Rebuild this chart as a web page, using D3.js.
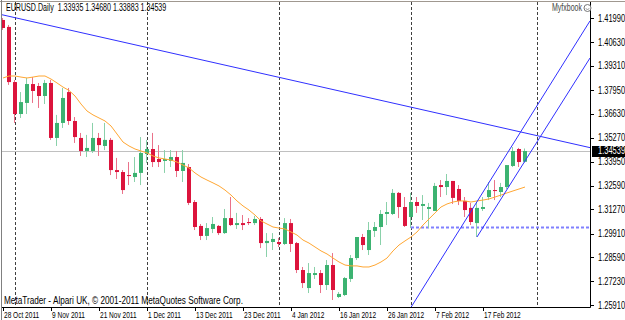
<!DOCTYPE html>
<html>
<head>
<meta charset="utf-8">
<script src="https://cdn.jsdelivr.net/npm/d3@7"></script>
<style>
html, body { margin: 0; padding: 0; background: #fff; }
svg { display: block; }
text { font-family: "Liberation Sans", Arial, sans-serif; }
</style>
</head>
<body>
<svg id="chart" width="625" height="320"></svg>
<script>
// EURUSD daily, 28 Oct 2011 .. 28 Feb 2012 (one value per bar)
const open = [1.4188,1.4149,1.3840,1.3661,1.3723,1.3829,1.3818,1.3762,1.3835,1.3527,
1.3611,1.3784,1.3622,1.3527,1.3454,1.3454,1.3527,1.3482,1.3516,1.3347,
1.3336,1.3319,1.3308,1.3331,1.3437,1.3465,1.3409,1.3398,1.3398,1.3420,
1.3342,1.3364,1.3168,1.3034,1.2978,1.3017,1.3034,1.2994,1.3078,1.3039,
1.3050,1.3056,1.3050,1.3073,1.2938,1.2944,1.2944,1.2933,1.3050,1.2938,
1.2787,1.2686,1.2759,1.2770,1.2703,1.2815,1.2636,1.2647,1.2737,1.2854,
1.2972,1.2899,1.3006,1.3028,1.3101,1.3101,1.3219,1.3140,1.3084,1.3168,
1.3146,1.3129,1.3118,1.3263,1.3252,1.3286,1.3241,1.3174,1.3135,1.3050,
1.3129,1.3196,1.3235,1.3224,1.3252,1.3370,1.3465,1.33935];
const high = [1.4199,1.4160,1.3852,1.3784,1.3863,1.3868,1.3835,1.3852,1.3852,1.3656,
1.3807,1.3807,1.3644,1.3555,1.3544,1.3611,1.3555,1.3611,1.3527,1.3415,
1.3347,1.3392,1.3420,1.3532,1.3516,1.3555,1.3487,1.3459,1.3459,1.3454,
1.3459,1.3381,1.3179,1.3045,1.3050,1.3084,1.3039,1.3129,1.3196,1.3107,
1.3095,1.3078,1.3090,1.3084,1.2994,1.2994,1.2967,1.3078,1.3073,1.2944,
1.2804,1.2826,1.2804,1.2787,1.2843,1.2882,1.2664,1.2748,1.2871,1.2972,
1.2989,1.3056,1.3056,1.3123,1.3168,1.3241,1.3224,1.3196,1.3219,1.3196,
1.3207,1.3163,1.3275,1.3291,1.3325,1.3286,1.3263,1.3196,1.3163,1.3163,
1.3196,1.3280,1.3291,1.3275,1.3375,1.3476,1.3471,1.34680];
const low = [1.4132,1.3824,1.3611,1.3639,1.3661,1.3723,1.3695,1.3717,1.3516,1.3482,
1.3583,1.3600,1.3499,1.3426,1.3420,1.3443,1.3426,1.3459,1.3319,1.3297,
1.3213,1.3263,1.3280,1.3263,1.3387,1.3364,1.3364,1.3331,1.3364,1.3308,
1.3280,1.3151,1.3011,1.2955,1.2955,1.2994,1.2983,1.2989,1.3034,1.3017,
1.3011,1.3039,1.3039,1.2910,1.2860,1.2899,1.2916,1.2927,1.2888,1.2770,
1.2686,1.2658,1.2737,1.2658,1.2675,1.2619,1.2630,1.2641,1.2720,1.2843,
1.2899,1.2871,1.2972,1.2927,1.3039,1.3095,1.3078,1.3028,1.3022,1.3107,
1.3067,1.3022,1.3118,1.3196,1.3207,1.3157,1.3151,1.3084,1.3039,1.2972,
1.3118,1.3179,1.3179,1.3196,1.3241,1.3364,1.3364,1.33883];
const close = [1.4143,1.3840,1.3661,1.3728,1.3829,1.3790,1.3762,1.3835,1.3527,1.3611,
1.3751,1.3622,1.3532,1.3454,1.3471,1.3527,1.3487,1.3516,1.3347,1.3336,
1.3235,1.3314,1.3331,1.3443,1.3465,1.3392,1.3392,1.3409,1.3420,1.3342,
1.3387,1.3163,1.3028,1.2978,1.3022,1.3045,1.2994,1.3078,1.3039,1.3050,
1.3039,1.3050,1.3073,1.2938,1.2950,1.2961,1.2933,1.3050,1.2933,1.2787,
1.2714,1.2770,1.2770,1.2703,1.2815,1.2675,1.2653,1.2742,1.2854,1.2972,
1.2927,1.3011,1.3028,1.3101,1.3112,1.3219,1.3140,1.3034,1.3168,1.3146,
1.3157,1.3140,1.3258,1.3252,1.3286,1.3191,1.3174,1.3123,1.3056,1.3135,
1.3140,1.3235,1.3230,1.3252,1.3375,1.3454,1.3392,1.34539];
// moving average as drawn (orange)
const ma = [1.3863,1.3874,1.3874,1.3868,1.3863,1.3868,1.3874,1.3874,1.3857,1.3835,
1.3812,1.3793,1.3762,1.3717,1.3678,1.3656,1.3639,1.3622,1.3594,1.3549,
1.3504,1.3482,1.3465,1.3454,1.3443,1.3426,1.3415,1.3409,1.3403,1.3392,
1.3375,1.3359,1.3331,1.3308,1.3291,1.3275,1.3258,1.3235,1.3207,1.3174,
1.3146,1.3123,1.3095,1.3062,1.3045,1.3028,1.3022,1.3017,1.3000,1.2983,
1.2955,1.2938,1.2916,1.2894,1.2877,1.2854,1.2832,1.2815,1.2810,1.2810,
1.2804,1.2804,1.2815,1.2832,1.2854,1.2894,1.2927,1.2950,1.2972,1.3000,
1.3039,1.3073,1.3107,1.3140,1.3157,1.3168,1.3174,1.3174,1.3168,1.3174,
1.3179,1.3185,1.3196,1.3207,1.3219,1.3230,1.3241,1.3252];

const dateTicks = [0,8,16,24,32,40,48,56,64,72,80];
const dateLabels = ["28 Oct 2011","9 Nov 2011","21 Nov 2011","1 Dec 2011","13 Dec 2011","23 Dec 2011",
  "4 Jan 2012","16 Jan 2012","26 Jan 2012","7 Feb 2012","17 Feb 2012"];
const monthStarts = [2,24,46,68,89];
const priceTicks = [1.41990,1.40630,1.39310,1.37950,1.36630,1.35270,1.33950,1.32590,1.31270,1.29910,1.28590,1.27230,1.25910];
const bid = 1.34539;
const levelLine = {i: 68, p: 1.3025};
// trendlines: anchors as [bar, price]
const trendDown = [[0,1.4216],[87,1.3555]];
const chanUpper = [[68,1.2578],[87,1.3600]];
const chanLower = [[79,1.2972],[87,1.3398]];

const W = 625, H = 320;
const L = 2, T = 2, R = 590, B = 307;
const bull = "#3cb371", bear = "#dc143c";
const bullWick = "#8ad1aa", bearWick = "#ea728a";

const x = d3.scaleLinear([0,87],[3,525]);
const y = d3.scaleLinear([1.25910,1.41990],[305,18]);

const svg = d3.select("#chart");
svg.append("defs").append("clipPath").attr("id","area")
  .append("rect").attr("x",L).attr("y",T).attr("width",R-L).attr("height",B-T);

// outer frame
svg.append("line").attr("x1",0).attr("x2",W).attr("y1",1.5).attr("y2",1.5).attr("stroke","#a09890");
svg.append("line").attr("x1",1.5).attr("x2",1.5).attr("y1",0).attr("y2",H).attr("stroke","#808080");

const plot = svg.append("g").attr("clip-path","url(#area)");

// month separators
plot.selectAll(".sep").data(monthStarts).join("line")
  .attr("class","sep")
  .attr("x1",d => Math.round(x(d))+0.5).attr("x2",d => Math.round(x(d))+0.5)
  .attr("y1",T).attr("y2",B)
  .attr("stroke","#404040").attr("stroke-dasharray","3,2");

// bid line
plot.append("line").attr("x1",L).attr("x2",R)
  .attr("y1",Math.round(y(bid))+0.5).attr("y2",Math.round(y(bid))+0.5)
  .attr("stroke","#c0c0c0");

// horizontal level
plot.append("line").attr("x1",x(levelLine.i)).attr("x2",R)
  .attr("y1",y(levelLine.p)).attr("y2",y(levelLine.p))
  .attr("stroke","#8080ff").attr("stroke-width",2).attr("stroke-dasharray","3,2");

// candles
const bars = d3.range(open.length);
plot.selectAll(".wick").data(bars).join("line")
  .attr("class","wick")
  .attr("x1",i => Math.round(x(i))-0.5).attr("x2",i => Math.round(x(i))-0.5)
  .attr("y1",i => y(high[i])).attr("y2",i => y(low[i]))
  .attr("stroke",i => close[i] >= open[i] ? bullWick : bearWick);
plot.selectAll(".body").data(bars).join("rect")
  .attr("class","body")
  .attr("x",i => Math.round(x(i))-2)
  .attr("width",4)
  .attr("y",i => y(Math.max(open[i],close[i])))
  .attr("height",i => Math.max(1, Math.abs(y(open[i])-y(close[i]))))
  .attr("fill",i => close[i] >= open[i] ? bull : bear);

// moving average
plot.append("path").datum(ma)
  .attr("fill","none").attr("stroke","#ffa733").attr("stroke-width",1)
  .attr("d",d3.line().x((d,i) => x(i)).y(d => y(d)));

// trendlines
function seg(a, both) {
  const x1 = x(a[0][0]), y1 = y(a[0][1]), x2 = x(a[1][0]), y2 = y(a[1][1]);
  const m = (y2-y1)/(x2-x1);
  const xs = both ? L : x1;
  return [xs, y1 + m*(xs-x1), R, y1 + m*(R-x1)];
}
[[trendDown,true],[chanUpper,false],[chanLower,false]].forEach(([a,both]) => {
  const s = seg(a,both);
  plot.append("line").attr("x1",s[0]).attr("y1",s[1]).attr("x2",s[2]).attr("y2",s[3])
    .attr("stroke","#3030ff").attr("stroke-width",1);
});

// axes lines
svg.append("line").attr("x1",R+0.5).attr("x2",R+0.5).attr("y1",T).attr("y2",B+0.5).attr("stroke","#000");
svg.append("line").attr("x1",L).attr("x2",R+0.5).attr("y1",B+0.5).attr("y2",B+0.5).attr("stroke","#000");

function squeeze(sel, f) {
  sel.each(function() {
    const w = this.getComputedTextLength();
    this.setAttribute("textLength", w*f);
    this.setAttribute("lengthAdjust","spacingAndGlyphs");
  });
}

// price axis
svg.selectAll(".pt").data(priceTicks).join("line")
  .attr("class","pt")
  .attr("x1",R).attr("x2",R+4)
  .attr("y1",d => Math.round(y(d))+0.5).attr("y2",d => Math.round(y(d))+0.5)
  .attr("stroke","#000");
const pl = svg.selectAll(".pl").data(priceTicks).join("text")
  .attr("class","pl")
  .attr("x",R+8).attr("y",d => y(d)+3.5)
  .attr("font-size",10).attr("fill","#000")
  .text(d => d.toFixed(5));
squeeze(pl, 0.75);

svg.append("rect").attr("x",R+2).attr("y",Math.round(y(bid))-5).attr("width",W-R).attr("height",11).attr("fill","#000");
const bl = svg.append("text").attr("x",R+8).attr("y",y(bid)+3.5)
  .attr("font-size",10).attr("fill","#fff").text(bid.toFixed(5));
squeeze(bl, 0.75);

// time axis
svg.selectAll(".dt").data(dateTicks).join("line")
  .attr("class","dt")
  .attr("x1",d => Math.round(x(d))+0.5).attr("x2",d => Math.round(x(d))+0.5)
  .attr("y1",B).attr("y2",B+4).attr("stroke","#000");
const dl = svg.selectAll(".dl").data(dateTicks).join("text")
  .attr("class","dl")
  .attr("x",d => x(d)+1).attr("y",318)
  .attr("font-size",8.5).attr("fill","#000")
  .text((d,i) => dateLabels[i]);
squeeze(dl, 0.77);

// captions
const t1 = svg.append("text").attr("x",6).attr("y",11).attr("font-size",10).attr("fill","#000")
  .attr("xml:space","preserve")
  .text("EURUSD.Daily  1.33935 1.34680 1.33883 1.34539");
squeeze(t1, 0.71);
const t2 = svg.append("text").attr("x",4).attr("y",304).attr("font-size",10).attr("fill","#000")
  .text("MetaTrader - Alpari UK, \u00a9 2001-2011 MetaQuotes Software Corp.");
squeeze(t2, 0.82);
const t3 = svg.append("text").attr("x",552).attr("y",11).attr("font-size",10).attr("fill","#444")
  .text("Myfxbook");
squeeze(t3, 0.70);
const logo = svg.append("g").attr("transform","translate(587.5,8)");
logo.append("circle").attr("r",3.5).attr("fill","#fff").attr("stroke","#777");
logo.append("path").attr("d","M-1.8,0.6 Q0,2.4 1.8,0.6").attr("fill","none").attr("stroke","#777").attr("stroke-width",0.8);
</script>
</body>
</html>
